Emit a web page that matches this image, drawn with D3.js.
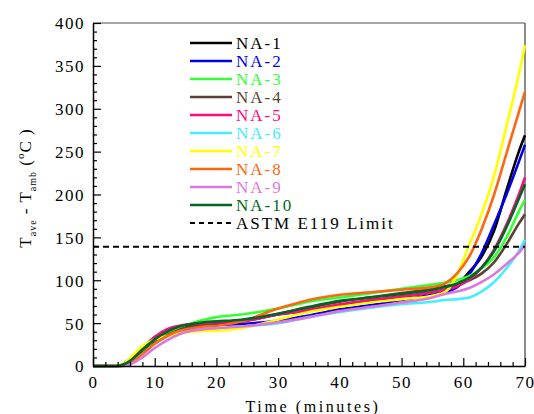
<!DOCTYPE html>
<html>
<head>
<meta charset="utf-8">
<script src="https://cdn.jsdelivr.net/npm/d3@7"></script>
<style>
  html, body { margin: 0; padding: 0; background: #fff; }
  svg { display: block; }
</style>
</head>
<body>
<svg id="chart" width="534" height="414"></svg>
<script>
// Sample times (minutes)
const times = [0, 2, 4, 5, 6, 8, 10, 12, 14, 16, 18, 20, 24, 30, 35, 40, 45, 50, 55, 57, 59, 61, 63, 65, 67, 69, 70];

// Average temperature rise above ambient (°C) per specimen
const na1  = [0, 0, 0, 2, 6, 20, 31, 38, 44, 47, 49, 50, 52, 60, 65, 71, 76, 81, 86, 89, 95, 110, 128, 158, 205, 250, 269];
const na2  = [0, 0, 0, 3, 8, 21, 31, 38, 43, 46, 47, 48, 49, 53, 59, 66, 71, 77, 83, 86, 92, 107, 132, 165, 200, 238, 258];
const na3  = [0, 0, 0, 1, 4, 15, 27, 37, 45, 50, 54, 57, 60, 67, 75, 80, 85, 90, 95, 97, 100, 105, 114, 127, 150, 180, 194];
const na4  = [0, 0, 0, 1, 4, 15, 27, 36, 42, 46, 48, 50, 53, 61, 68, 75, 80, 85, 90, 93, 96, 100, 108, 121, 142, 166, 177];
const na5  = [0, 0, 0, 2, 6, 21, 34, 43, 47, 49, 50, 51, 52, 60, 65, 72, 77, 81, 86, 89, 93, 101, 115, 136, 165, 200, 220];
const na6  = [0, 0, 0, 1, 4, 14, 26, 34, 39, 42, 43, 44, 46, 50, 57, 63, 68, 72, 75, 77, 78, 80, 87, 98, 114, 134, 147];
const na7  = [0, 0, 0, 3, 9, 23, 31, 35, 38, 40, 41, 41, 44, 54, 63, 69, 74, 78, 82, 86, 106, 142, 178, 222, 280, 340, 374];
const na8  = [0, 0, 0, 1, 4, 14, 26, 35, 41, 44, 46, 47, 52, 67, 77, 83, 86, 89, 92, 96, 108, 128, 160, 200, 248, 296, 320];
const na9  = [0, 0, 0, 0, 2, 10, 21, 30, 37, 41, 43, 44, 46, 51, 57, 64, 69, 74, 80, 84, 87, 91, 98, 107, 119, 132, 141];
const na10 = [0, 0, 0, 2, 6, 19, 31, 40, 46, 49, 51, 52, 54, 61, 69, 76, 80, 84, 89, 92, 96, 103, 115, 134, 162, 195, 212];

const seriesNames  = ["NA-1", "NA-2", "NA-3", "NA-4", "NA-5", "NA-6", "NA-7", "NA-8", "NA-9", "NA-10"];
const seriesValues = [na1, na2, na3, na4, na5, na6, na7, na8, na9, na10];
const seriesColors = ["#000000", "#0000ee", "#33ff33", "#5c4033", "#ff0a80", "#44eeff", "#ffff00", "#ff6611", "#dd77dd", "#006622"];

// Fire-resistance criterion (average rise limit, °C)
const limitValue = 139;
const limitLabel = "ASTM E119 Limit";

const xTicks = [0, 10, 20, 30, 40, 50, 60, 70];
const yTicks = [0, 50, 100, 150, 200, 250, 300, 350, 400];

const FONT = "Liberation Serif, Tinos, Nimbus Roman, FreeSerif, Noto Serif, DejaVu Serif, serif";

const svg = d3.select("#chart");
const plot = { left: 93, right: 525, top: 23, bottom: 366 };

const x = d3.scaleLinear().domain([0, 70]).range([plot.left, plot.right]);
const y = d3.scaleLinear().domain([0, 400]).range([plot.bottom, plot.top]);

// Frame (top/right lighter)
svg.append("line").attr("x1", plot.left).attr("x2", plot.right).attr("y1", plot.top).attr("y2", plot.top)
  .attr("stroke", "#888").attr("stroke-width", 1.5);
svg.append("line").attr("x1", plot.right).attr("x2", plot.right).attr("y1", plot.top).attr("y2", plot.bottom)
  .attr("stroke", "#666").attr("stroke-width", 1.5);

// Curves
const line = d3.line()
  .x((d, i) => x(times[i]))
  .y(d => y(d))
  .curve(d3.curveMonotoneX);

const curves = svg.append("g");
seriesValues.forEach((vals, k) => {
  curves.append("path")
    .datum(vals)
    .attr("fill", "none")
    .attr("stroke", seriesColors[k])
    .attr("stroke-width", 2.6)
    .attr("stroke-linejoin", "round")
    .attr("d", line);
});

// Limit line
svg.append("line")
  .attr("x1", x(0)).attr("x2", x(70))
  .attr("y1", y(limitValue)).attr("y2", y(limitValue))
  .attr("stroke", "#000").attr("stroke-width", 2)
  .attr("stroke-dasharray", "6,4");

// Axes: ticks point inward
const xAxis = d3.axisBottom(x).tickValues(d3.range(0, 71, 2)).tickSize(0).tickFormat("");
const gx = svg.append("g").attr("transform", `translate(0,${plot.bottom})`).call(xAxis)
  .attr("font-family", FONT);
gx.select(".domain").attr("stroke", "#000").attr("stroke-width", 1.5);
gx.selectAll(".tick line").remove();
gx.selectAll(".tick").append("line")
  .attr("y2", d => (d % 10 === 0 ? -8 : -4))
  .attr("stroke", "#000").attr("stroke-width", 1.2);
gx.selectAll(".tick")
  .filter(d => xTicks.includes(d))
  .append("text")
  .attr("y", 22)
  .attr("fill", "#000")
  .attr("text-anchor", "middle")
  .attr("font-family", FONT)
  .attr("font-size", 17)
  .attr("letter-spacing", 1.5)
  .text(d => d);

const yAxis = d3.axisLeft(y).tickValues(d3.range(0, 401, 10)).tickSize(0).tickFormat("");
const gy = svg.append("g").attr("transform", `translate(${plot.left},0)`).call(yAxis)
  .attr("font-family", FONT);
gy.select(".domain").attr("stroke", "#000").attr("stroke-width", 1.5);
gy.selectAll(".tick line").remove();
gy.selectAll(".tick").append("line")
  .attr("x2", d => (d % 50 === 0 ? 8 : 4))
  .attr("stroke", "#000").attr("stroke-width", 1.2);
gy.selectAll(".tick")
  .filter(d => yTicks.includes(d))
  .append("text")
  .attr("x", -8)
  .attr("dy", "0.35em")
  .attr("fill", "#000")
  .attr("text-anchor", "end")
  .attr("font-family", FONT)
  .attr("font-size", 17)
  .attr("letter-spacing", 1.5)
  .text(d => d);

// Axis titles
svg.append("text")
  .attr("x", (plot.left + plot.right) / 2 + 4)
  .attr("y", 412)
  .attr("text-anchor", "middle")
  .attr("font-family", FONT)
  .attr("font-size", 16)
  .attr("letter-spacing", 2.6)
  .text("Time (minutes)");

const yTitle = svg.append("text")
  .attr("transform", `translate(31,188) rotate(-90)`)
  .attr("text-anchor", "middle")
  .attr("font-family", FONT)
  .attr("font-size", 17)
  .attr("letter-spacing", 1);
yTitle.append("tspan").text("T");
yTitle.append("tspan").attr("dy", 5).attr("font-size", 10).text("ave");
yTitle.append("tspan").attr("dy", -5).text(" - T");
yTitle.append("tspan").attr("dy", 5).attr("font-size", 10).text("amb");
yTitle.append("tspan").attr("dy", -5).text(" (");
yTitle.append("tspan").attr("dy", -7).attr("font-size", 11).text("o");
yTitle.append("tspan").attr("dy", 7).text("C )");

// Legend
const legend = svg.append("g").attr("font-family", FONT);
const legX0 = 190, legX1 = 232, legTextX = 236, legY0 = 43, legStep = 18;
seriesNames.forEach((name, k) => {
  const yy = legY0 + k * legStep;
  legend.append("line")
    .attr("x1", legX0).attr("x2", legX1).attr("y1", yy).attr("y2", yy)
    .attr("stroke", seriesColors[k]).attr("stroke-width", 2.6);
  legend.append("text")
    .attr("x", legTextX).attr("y", yy)
    .attr("dy", "0.35em")
    .attr("fill", seriesColors[k])
    .attr("font-size", 17)
    .attr("letter-spacing", 2)
    .text(name);
});
const yLim = legY0 + seriesNames.length * legStep;
legend.append("line")
  .attr("x1", legX0).attr("x2", legX1).attr("y1", yLim).attr("y2", yLim)
  .attr("stroke", "#000").attr("stroke-width", 2)
  .attr("stroke-dasharray", "5,4");
legend.append("text")
  .attr("x", legTextX).attr("y", yLim)
  .attr("dy", "0.35em")
  .attr("fill", "#000")
  .attr("font-size", 17)
  .attr("letter-spacing", 2)
  .text(limitLabel);
</script>
</body>
</html>
